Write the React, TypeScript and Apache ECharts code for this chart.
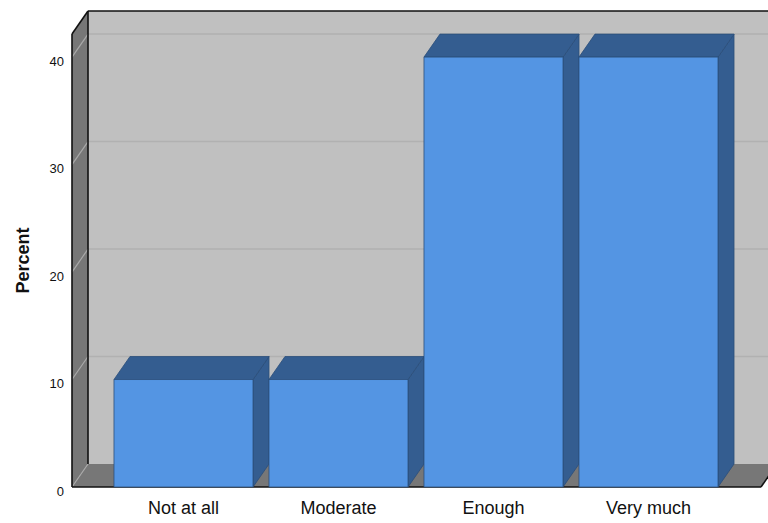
import React, { useEffect, useRef } from "react";
import * as echarts from "echarts";

// Response categories and their share of respondents (%)
const categories = ["Not at all", "Moderate", "Enough", "Very much"];
const percents = [10, 10, 40, 40];
// Value-axis ticks and the top of the 3D box (in percent)
const yTicks = [0, 10, 20, 30, 40];
const yMax = 42.15;

// Oblique depth of the 3D effect, in pixels
const DEPTH_X = 16;
const DEPTH_Y = -23;

const WALL = "#c0c0c0";
const SIDE_WALL = "#777777";
const GRID_BACK = "#b1b1b1";
const GRID_SIDE = "#a9a9a9";
const BAR_FRONT = "#5495e3";
const BAR_SHADE = "#345d90";
const BAR_EDGE = "#2b4e7a";
const EDGE = "#111111";

export default function App() {
  const ref = useRef<HTMLDivElement>(null);

  useEffect(() => {
    if (!ref.current) return;
    const chart = echarts.init(ref.current, undefined, { renderer: "svg" });

    // Back wall, side wall, floor and grid lines of the 3D box
    const renderFrame = (params: any, api: any) => {
      const fl = api.coord([0, 0]);
      const tl = api.coord([0, yMax]);
      const fr = api.coord([1, 0]);
      const bx = (p: number[]) => [p[0] + DEPTH_X, p[1] + DEPTH_Y];
      const btl = bx(tl);
      const bfl = bx(fl);
      const bfr = bx(fr);
      const children: any[] = [];
      children.push({
        type: "rect",
        shape: { x: btl[0], y: btl[1], width: bfr[0] - btl[0], height: bfl[1] - btl[1] },
        style: { fill: WALL },
      });
      children.push({
        type: "polygon",
        shape: { points: [tl, btl, bfl, fl] },
        style: { fill: SIDE_WALL },
      });
      children.push({
        type: "polygon",
        shape: { points: [fl, bfl, bfr, fr] },
        style: { fill: SIDE_WALL },
      });
      yTicks.forEach((v) => {
        const p = api.coord([0, v]);
        const b = bx(p);
        if (v > 0) {
          children.push({
            type: "line",
            shape: { x1: b[0], y1: b[1], x2: bfr[0], y2: b[1] },
            style: { stroke: GRID_BACK, lineWidth: 1.5 },
          });
        }
        children.push({
          type: "line",
          shape: { x1: p[0], y1: p[1], x2: b[0], y2: b[1] },
          style: { stroke: GRID_SIDE, lineWidth: 1.2 },
        });
      });
      const edge = (a: number[], b: number[]) => ({
        type: "line",
        shape: { x1: a[0], y1: a[1], x2: b[0], y2: b[1] },
        style: { stroke: EDGE, lineWidth: 1.6 },
      });
      children.push(edge(tl, btl));
      children.push(edge(btl, [bfr[0], btl[1]]));
      children.push(edge(btl, bfl));
      children.push(edge(tl, fl));
      children.push(edge(fl, fr));
      children.push(edge(fr, bfr));
      return { type: "group", children };
    };

    // Each bar: front face, shaded top and right side faces
    const renderBar = (params: any, api: any) => {
      const i = api.value(0);
      const v = api.value(1);
      const top = api.coord([i, v]);
      const base = api.coord([i, 0]);
      const w = api.size([1, 0])[0] * 0.897;
      const x0 = top[0] - w / 2;
      const x1 = top[0] + w / 2;
      const yT = top[1];
      const yB = base[1];
      const edgeStyle = { stroke: BAR_EDGE, lineWidth: 0.8 };
      return {
        type: "group",
        children: [
          {
            type: "polygon",
            shape: {
              points: [
                [x1, yT],
                [x1 + DEPTH_X, yT + DEPTH_Y],
                [x1 + DEPTH_X, yB + DEPTH_Y],
                [x1, yB],
              ],
            },
            style: { fill: BAR_SHADE, ...edgeStyle },
          },
          {
            type: "polygon",
            shape: {
              points: [
                [x0, yT],
                [x0 + DEPTH_X, yT + DEPTH_Y],
                [x1 + DEPTH_X, yT + DEPTH_Y],
                [x1, yT],
              ],
            },
            style: { fill: BAR_SHADE, ...edgeStyle },
          },
          {
            type: "rect",
            shape: { x: x0, y: yT, width: w, height: yB - yT },
            style: { fill: BAR_FRONT, ...edgeStyle },
          },
        ],
      };
    };

    chart.setOption({
      animation: false,
      backgroundColor: "#ffffff",
      textStyle: { fontFamily: "'Liberation Sans', Arial, sans-serif" },
      grid: [
        { left: 72, right: 7, top: 34, bottom: 36 },
        { left: 106, right: 42, top: 34, bottom: 36 },
      ],
      xAxis: [
        { type: "value", gridIndex: 0, min: 0, max: 1, show: false },
        {
          type: "category",
          gridIndex: 1,
          data: categories,
          axisLine: { show: false },
          axisTick: { show: false },
          splitLine: { show: false },
          axisLabel: { fontSize: 18, color: "#111", margin: 12, interval: 0 },
        },
      ],
      yAxis: [
        {
          type: "value",
          gridIndex: 0,
          min: 0,
          max: yMax,
          interval: 10,
          axisLine: { show: false },
          axisTick: { show: false },
          splitLine: { show: false },
          axisLabel: {
            fontSize: 13,
            color: "#111",
            margin: 8,
            verticalAlign: "top",
            lineHeight: 8,
            formatter: (v: number) => (yTicks.includes(v) ? String(v) : ""),
          },
          name: "Percent",
          nameLocation: "middle",
          nameGap: 40,
          nameTextStyle: { fontSize: 18, fontWeight: "bold", color: "#111" },
        },
        { type: "value", gridIndex: 1, min: 0, max: yMax, show: false },
      ],
      series: [
        {
          type: "custom",
          xAxisIndex: 0,
          yAxisIndex: 0,
          renderItem: renderFrame,
          data: [[0, 0]],
          z: 1,
          silent: true,
        },
        {
          type: "custom",
          xAxisIndex: 1,
          yAxisIndex: 1,
          renderItem: renderBar,
          data: percents.map((p, i) => [i, p]),
          z: 2,
        },
      ],
    });

    return () => chart.dispose();
  }, []);

  return (
    <div
      ref={ref}
      style={{ position: "absolute", left: 0, top: 0, width: 768, height: 523 }}
    />
  );
}
